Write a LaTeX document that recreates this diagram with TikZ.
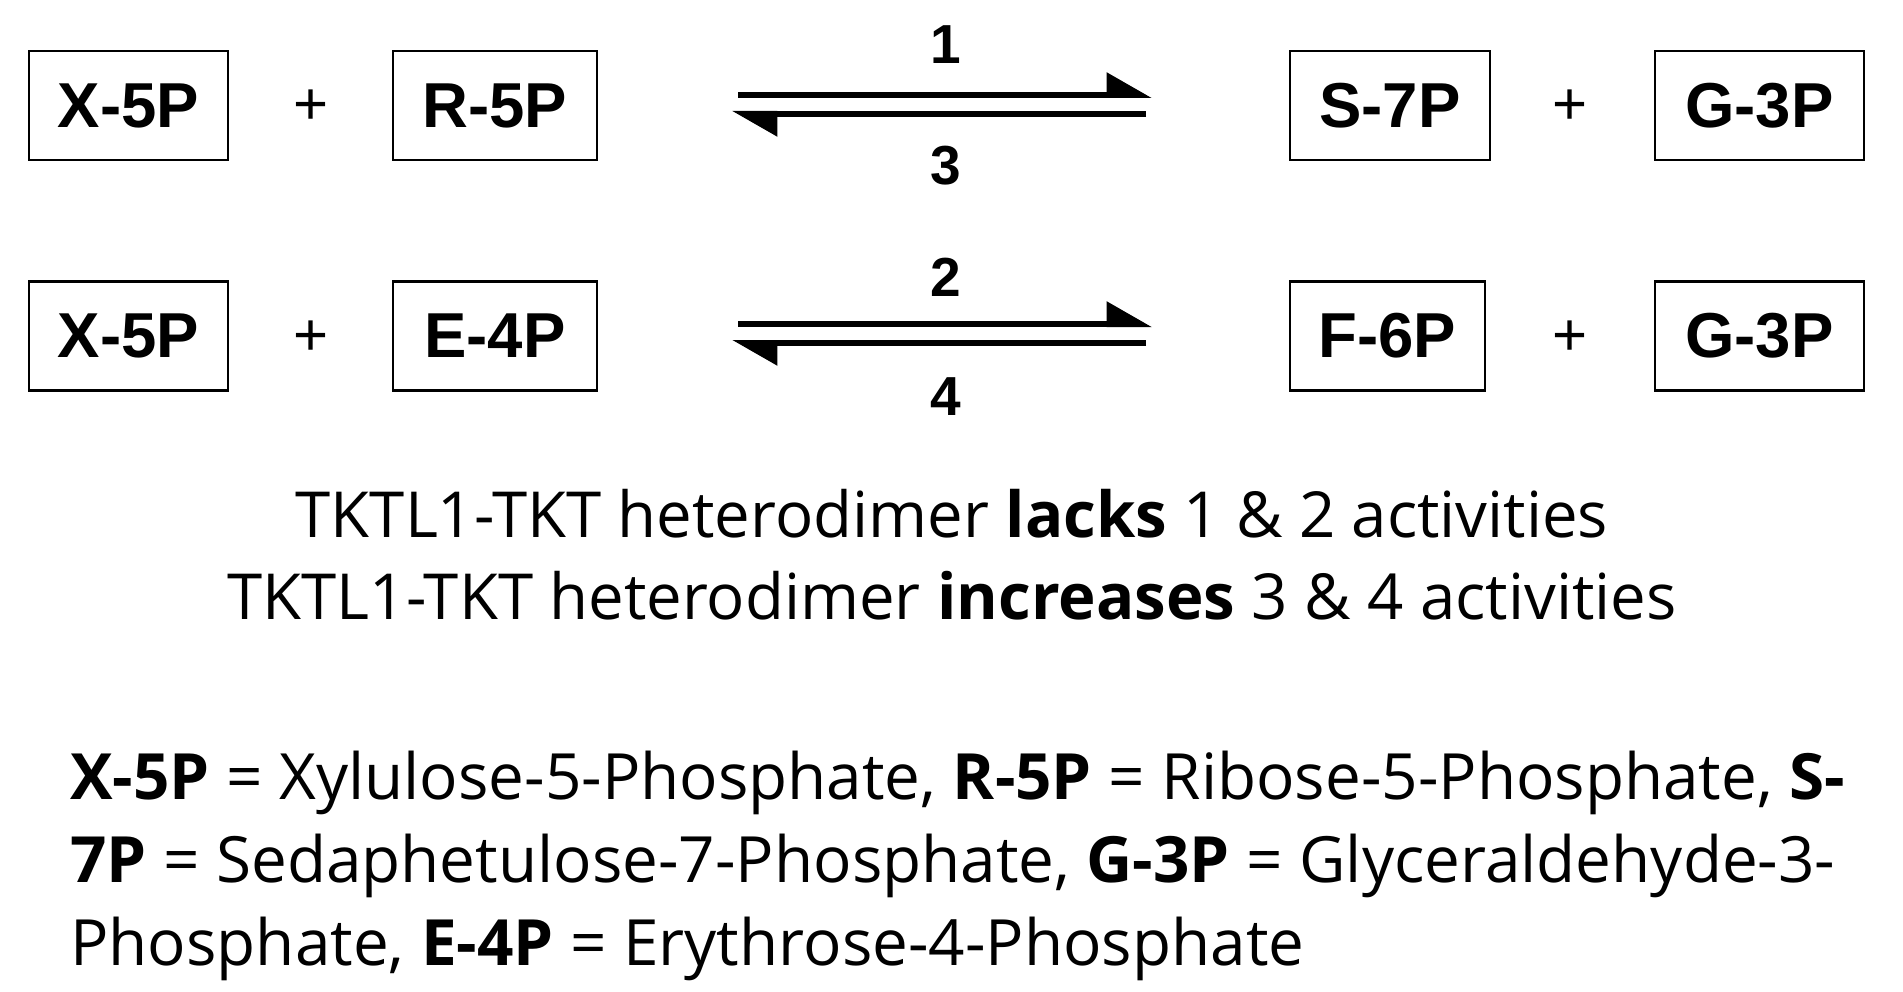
\documentclass[tikz,border=0pt]{standalone}
\usepackage{fontspec}
\setmainfont{Liberation Sans}
\newfontfamily\txtfont{Open Sans}
\usetikzlibrary{arrows.meta}
\begin{document}
\begin{tikzpicture}[x=1pt,y=-1pt,
  metab/.style={draw, line width=2.5pt, minimum height=109pt, inner sep=0pt,
    font=\fontsize{63.5}{66}\selectfont\bfseries},
  plussign/.style={font=\fontsize{60}{64}\selectfont},
  numlbl/.style={font=\fontsize{55}{58}\selectfont\bfseries},
  fwd/.style={line width=6pt, -{Triangle[left,length=40pt,width=44pt]}},
  sent/.style={anchor=base, inner sep=0pt, font=\txtfont\fontsize{63.5}{68}\selectfont},
  legend/.style={anchor=base west, inner sep=0pt, font=\txtfont\fontsize{63.8}{68}\selectfont}]
\useasboundingbox (0,0) rectangle (1903,992);

% row 1
\node[metab, minimum width=199pt] (x1) at (128.5,105.5) {X-5P};
\node[plussign] (p1) at (311,107) {+};
\node[metab, minimum width=204pt] (r1) at (495,105.5) {R-5P};
\node[metab, minimum width=200pt] (s1) at (1390,105.5) {S-7P};
\node[plussign] (p2) at (1570,107) {+};
\node[metab, minimum width=209pt] (g1) at (1759.5,105.5) {G-3P};

\coordinate (a1s) at (738,95);
\coordinate (a1e) at (1152,95);
\coordinate (b1s) at (1146,114);
\coordinate (b1e) at (732,114);
\draw[fwd] (a1s) -- (a1e);
\draw[fwd] (b1s) -- (b1e);
\node[numlbl] (n1) at (946,45) {1};
\node[numlbl] (n3) at (946,166) {3};

% row 2
\node[metab, minimum width=199pt] (x2) at (128.5,336) {X-5P};
\node[plussign] (p3) at (311,338) {+};
\node[metab, minimum width=204pt] (e2) at (495,336) {E-4P};
\node[metab, minimum width=195pt] (f2) at (1387.5,336) {F-6P};
\node[plussign] (p4) at (1570,338) {+};
\node[metab, minimum width=209pt] (g2) at (1759.5,336) {G-3P};

\coordinate (a2s) at (738,324);
\coordinate (a2e) at (1152,324);
\coordinate (b2s) at (1146,343);
\coordinate (b2e) at (732,343);
\draw[fwd] (a2s) -- (a2e);
\draw[fwd] (b2s) -- (b2e);
\node[numlbl] (n2) at (946,277) {2};
\node[numlbl] (n4) at (946,397) {4};

% sentences
\node[sent] (t1) at (952,537) {TKTL1-TKT heterodimer \textbf{lacks} 1 \& 2 activities};
\node[sent] (t2) at (952,619) {TKTL1-TKT heterodimer \textbf{increases} 3 \& 4 activities};

% legend
\node[legend] (l1) at (70,799) {\textbf{X-5P} = Xylulose-5-Phosphate, \textbf{R-5P} = Ribose-5-Phosphate, \textbf{S-}};
\node[legend] (l2) at (70,882) {\textbf{7P} = Sedaphetulose-7-Phosphate, \textbf{G-3P} = Glyceraldehyde-3-};
\node[legend] (l3) at (70,965) {Phosphate, \textbf{E-4P} = Erythrose-4-Phosphate};
\end{tikzpicture}
\end{document}
